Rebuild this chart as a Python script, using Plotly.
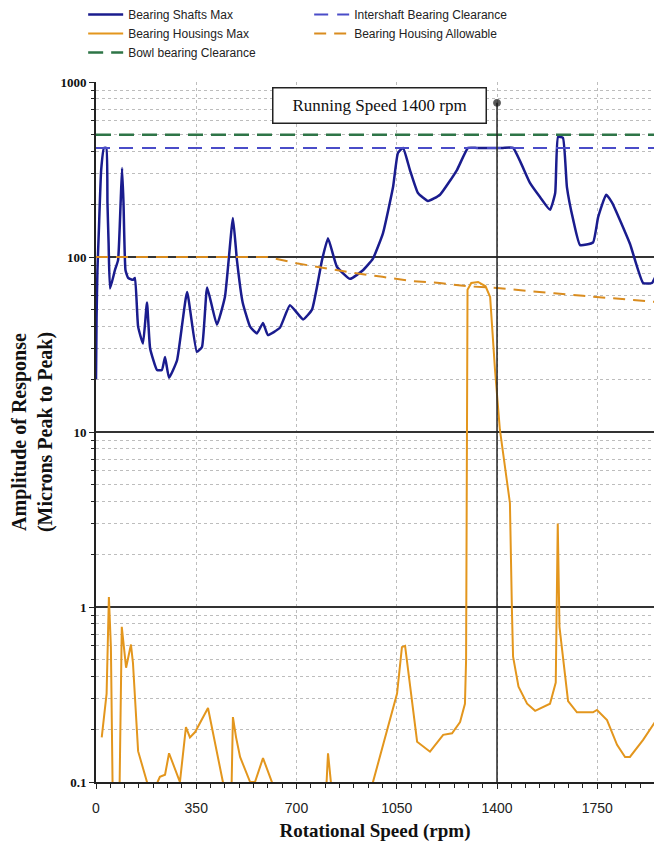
import plotly.graph_objects as go

# ---- data ----
shaft_rpm = [0, 2, 5, 10, 18, 28, 36, 40, 44, 49, 66, 77, 86, 91, 96, 103, 112, 129, 136, 147,
             164, 178, 189, 213, 230, 241, 255, 283, 318, 352, 370, 388, 422, 450, 478, 492,
             512, 538, 562, 583, 600, 642, 677, 723, 754, 789, 810, 841, 887, 932, 967, 1002,
             1037, 1054, 1072, 1096, 1124, 1159, 1201, 1260, 1299, 1330, 1380, 1420, 1456,
             1515, 1550, 1585, 1603, 1613, 1630, 1644, 1666, 1690, 1735, 1753, 1781, 1802,
             1864, 1910, 1941, 1959, 1976]
shaft_amp = [20, 45, 84, 142, 314, 420, 420, 204, 120, 66, 84, 96, 204, 323, 204, 84, 76, 74, 76, 40,
             32, 55, 30, 22.6, 22.6, 26.8, 20.4, 25.7, 63, 28.7, 30.6, 67, 41, 59, 167, 96,
             55, 40, 36.6, 42, 35.8, 39.4, 53, 44, 50, 96, 128, 88, 75, 84, 98, 137,
             251, 393, 420, 314, 232, 209, 227, 314, 420, 420, 420, 420, 420,
             265, 220, 186, 232, 485, 480, 251, 163, 117, 121, 169, 227, 204,
             119, 71, 71, 80, 74]

housing_rpm = [20, 37, 45, 52, 60, 80, 90, 97, 105, 122, 129, 147, 178, 195, 215, 223, 241, 255,
               293, 314, 328, 346, 391, 443, 455, 470, 478, 489, 503, 538, 555, 583, 614, 640,
               790, 805, 810, 820, 835, 950, 967, 1051, 1068, 1079, 1121, 1166, 1212, 1243,
               1271, 1288, 1292, 1297, 1310, 1334, 1360, 1376, 1393, 1410, 1445, 1452, 1456,
               1475, 1505, 1533, 1585, 1605, 1612, 1618, 1648, 1679, 1735, 1749, 1784, 1819,
               1847, 1864, 1910, 1959, 1976]
housing_amp = [0.18, 0.32, 1.14, 0.59, 0.05, 0.05, 0.77, 0.6, 0.45, 0.61, 0.48, 0.15, 0.1, 0.09, 0.1, 0.107, 0.11, 0.146,
               0.1, 0.206, 0.18, 0.193, 0.265, 0.1, 0.05, 0.05, 0.235, 0.18, 0.139, 0.1, 0.1, 0.137, 0.1, 0.05,
               0.05, 0.1, 0.146, 0.1, 0.05, 0.05, 0.1, 0.32, 0.59, 0.6, 0.17, 0.149, 0.186, 0.19,
               0.22, 0.28, 0.5, 65, 71, 72, 68, 59, 22.6, 10.3, 3.93, 0.96, 0.52,
               0.35, 0.28, 0.255, 0.28, 0.37, 3.0, 0.77, 0.29, 0.25, 0.25, 0.258, 0.226, 0.163,
               0.139, 0.139, 0.174, 0.23, 0.235]

allow_rpm = [0, 600, 700, 800, 900, 1000, 1100, 1200, 1300, 1400, 1500, 1600, 1700, 1800, 1900, 1976]
allow_amp = [100, 100, 92, 86, 81, 77, 73, 71, 68, 66.5, 64, 62, 60, 58, 56.5, 55]

intershaft_clearance = 420
bowl_clearance = 500
x_data_end = 1976
x_view_end = 1948

running_speed = 1400
running_top = 760

x_ticks = [0, 350, 700, 1050, 1400, 1750]
y_ticks = [0.1, 1, 10, 100, 1000]
y_tick_text = ["0.1", "1", "10", "100", "1000"]

# ---- colours ----
c_shaft = "#1a1c8e"
c_inter = "#4a4cc8"
c_bowl = "#2e7547"
c_house = "#e3961d"
c_allow = "#d98c1f"

fig = go.Figure()

fig.add_trace(go.Scatter(x=shaft_rpm, y=shaft_amp, mode="lines", name="Bearing Shafts Max",
                         line=dict(color=c_shaft, width=2.5, shape="spline", smoothing=0.4)))
fig.add_trace(go.Scatter(x=[0, x_data_end], y=[intershaft_clearance] * 2, mode="lines",
                         name="Intershaft Bearing Clearance",
                         line=dict(color=c_inter, width=2, dash="14px,9px")))
fig.add_trace(go.Scatter(x=housing_rpm, y=housing_amp, mode="lines", name="Bearing Housings Max",
                         line=dict(color=c_house, width=2)))
fig.add_trace(go.Scatter(x=allow_rpm, y=allow_amp, mode="lines", name="Bearing Housing Allowable",
                         line=dict(color=c_allow, width=2, dash="12px,8px")))
fig.add_trace(go.Scatter(x=[0, x_data_end], y=[bowl_clearance] * 2, mode="lines",
                         name="Bowl bearing Clearance",
                         line=dict(color=c_bowl, width=2.5, dash="15px,8px")))
# running speed marker line
fig.add_trace(go.Scatter(x=[running_speed, running_speed], y=[0.1, running_top], mode="lines+markers",
                         showlegend=False, line=dict(color="#222", width=1.5),
                         marker=dict(size=[0, 7], color="#111")))

fig.add_annotation(x=990, y=2.865, xref="x", yref="y", text="Running Speed 1400 rpm",
                   showarrow=False, font=dict(family="Liberation Serif", size=17, color="#111"),
                   bordercolor="#222", borderwidth=1.5, bgcolor="white", width=210, height=32)

fig.update_layout(
    width=646, height=834,
    margin=dict(l=88, r=0, t=74, b=60, autoexpand=False),
    paper_bgcolor="white", plot_bgcolor="white",
    legend=dict(orientation="h", x=-0.023, xanchor="left", y=1.117, yanchor="top",
                entrywidth=176, entrywidthmode="pixels", itemwidth=35,
                font=dict(family="Liberation Sans", size=12, color="#222"),
                tracegroupgap=0, traceorder="normal"),
    showlegend=True,
)

fig.update_xaxes(range=[0, x_view_end], tickvals=x_ticks, ticks="outside", ticklen=5,
                 tickcolor="#222", showline=True, linecolor="#222", linewidth=2,
                 showgrid=True, gridcolor="#bdbdbd", griddash="dot", gridwidth=1,
                 zeroline=False, automargin=False, ticklabelstandoff=7,
                 tickfont=dict(family="Liberation Sans", size=14, color="#222"),
                 minor=dict(dtick=50, ticks="outside", ticklen=4, tickcolor="#222", showgrid=False),
                 title=dict(text="Rotational Speed (rpm)", standoff=10,
                            font=dict(family="Liberation Serif", size=19, color="#111", weight="bold")))

fig.update_yaxes(type="log", range=[-1, 3], tickvals=y_ticks, ticktext=y_tick_text,
                 ticks="outside", ticklen=5, tickcolor="#222",
                 showline=True, linecolor="#222", linewidth=2,
                 showgrid=True, gridcolor="#333", gridwidth=1.5,
                 zeroline=False, automargin=False,
                 tickfont=dict(family="Liberation Serif", size=13, color="#111", weight="bold"),
                 minor=dict(dtick="D1", ticks="outside", ticklen=3, tickcolor="#222",
                            showgrid=True, gridcolor="#bdbdbd", griddash="dot", gridwidth=1),
                 title=dict(text="Amplitude of Response<br>(Microns Peak to Peak)", standoff=4,
                            font=dict(family="Liberation Serif", size=20, color="#111", weight="bold")))

fig.write_html("out.html")
